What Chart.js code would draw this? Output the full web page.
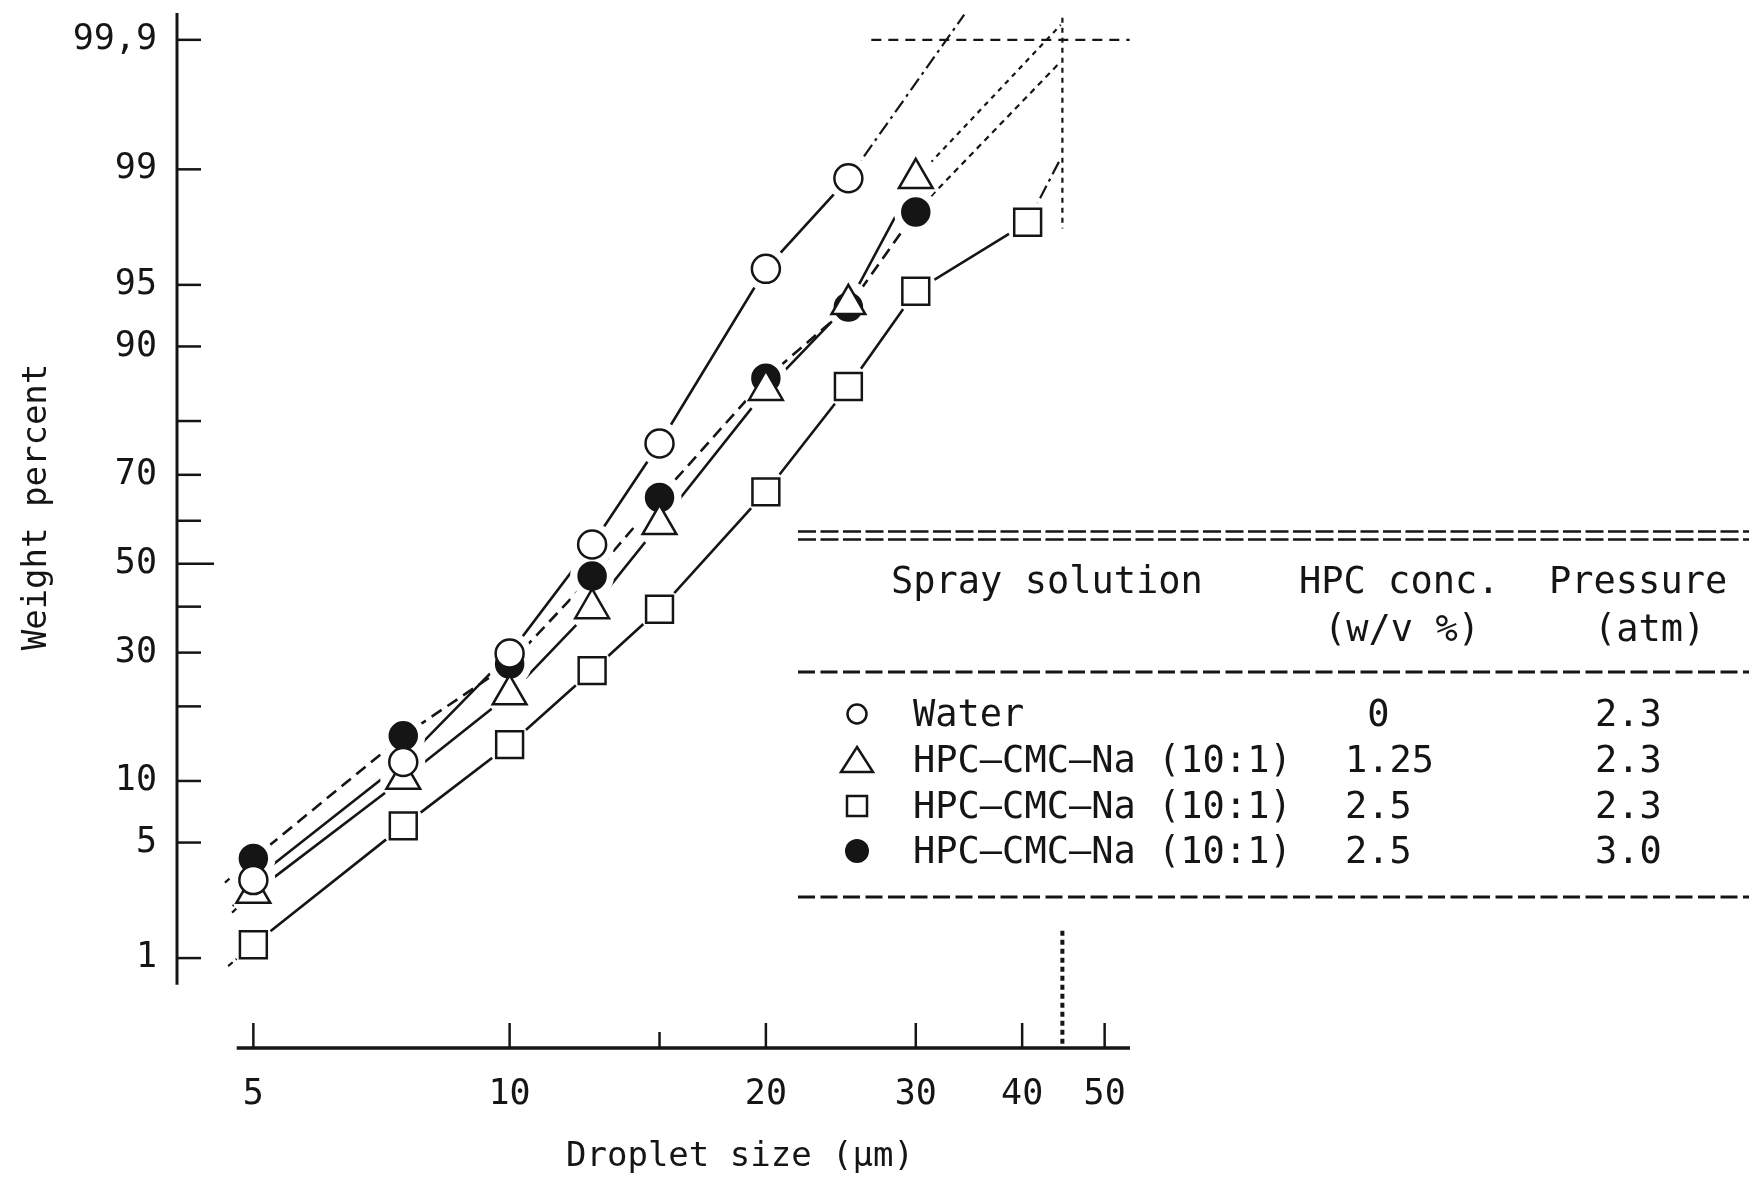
<!DOCTYPE html>
<html lang="en">
<head>
    <meta charset="UTF-8">
    <title>Droplet size distribution</title>
    <script src="https://cdn.jsdelivr.net/npm/chart.js"></script>
    <style>
        html, body { margin: 0; padding: 0; background: #fff; }
        #wrap { width: 1749px; height: 1182px; }
    </style>
</head>
<body>
    <div id="wrap">
        <canvas id="dropletChart" width="1749" height="1182"></canvas>
    </div>

    <script>
        // Droplet size (um) and cumulative weight percent per spray solution
        const sizes = [5, 7.5, 10, 12.5, 15, 20, 25, 30, 40.6];
        const water = [3.1, 12.1, 29.8, 54.5, 76.1, 95.9, 98.85, null, null];      // open circle
        const hpc125 = [2.6, 10.2, 22.0, 39.6, 59.2, 84.7, 93.7, 98.85, null];     // triangle
        const hpc250 = [1.23, 6.1, 14.3, 26.4, 39.4, 66.4, 85.2, 94.6, 97.8];      // square
        const hpc250p30 = [4.1, 15.5, 27.7, 47.1, 65.2, 86.3, 93.5, 98.1, null];   // filled circle

        // extrapolated ends of the fitted lines (same series order as above)
        const upperEndX = [34.2, 44.4, 44.4, 44.4];
        const upperEndY = [99.94, 99.926, 99.16, 99.847];
        const lowerEndX = [4.73, 4.72, 4.67, 4.63];
        const lowerEndY = [2.17, 1.98, 0.88, 3.0];

        // dotted guide lines (99.9 % level and the size where it is reached)
        const guideHX = [26.6, 53.5];
        const guideHY = [99.9, 99.9];
        const guideVX = [44.6, 44.6];
        const guideVTopY = [99.936, 97.6];
        const guideVLowY = [1.52, 0.22];

        // axes
        const xTicks = [5, 10, 15, 20, 30, 40, 50];
        const xLabels = ['5', '10', '', '20', '30', '40', '50'];
        const yTicks = [99.9, 99, 95, 90, 80, 70, 60, 50, 40, 30, 20, 10, 5, 1];
        const yLabels = ['99,9', '99', '95', '90', '', '70', '', '50', '', '30', '', '10', '5', '1'];
        const xRange = [4.067, 53.55];
        const yRange = [0.214, 99.942];
        const xAxisStart = 4.78;
        const yAxisEnd = 0.65;

        // legend table
        const solutions = ['Water', 'HPC\u2013CMC\u2013Na (10:1)', 'HPC\u2013CMC\u2013Na (10:1)', 'HPC\u2013CMC\u2013Na (10:1)'];
        const hpcConc = [' 0', '1.25', '2.5', '2.5'];
        const pressure = ['2.3', '2.3', '2.3', '3.0'];

        // inverse of the normal distribution (probability paper axis)
        function probit(pct) {
            const p = pct / 100;
            const a = [-3.969683028665376e+01, 2.209460984245205e+02, -2.759285104469687e+02, 1.383577518672690e+02, -3.066479806614716e+01, 2.506628277459239e+00];
            const b = [-5.447609879822406e+01, 1.615858368580409e+02, -1.556989798598866e+02, 6.680131188771972e+01, -1.328068155288572e+01];
            const c = [-7.784894002430293e-03, -3.223964580411365e-01, -2.400758277161838e+00, -2.549732539343734e+00, 4.374664141464968e+00, 2.938163982698783e+00];
            const d = [7.784695709041462e-03, 3.224671290700398e-01, 2.445134137142996e+00, 3.754408661907416e+00];
            const plow = 0.02425;
            let q, r;
            if (p < plow) {
                q = Math.sqrt(-2 * Math.log(p));
                return (((((c[0] * q + c[1]) * q + c[2]) * q + c[3]) * q + c[4]) * q + c[5]) / ((((d[0] * q + d[1]) * q + d[2]) * q + d[3]) * q + 1);
            }
            if (p > 1 - plow) {
                q = Math.sqrt(-2 * Math.log(1 - p));
                return -(((((c[0] * q + c[1]) * q + c[2]) * q + c[3]) * q + c[4]) * q + c[5]) / ((((d[0] * q + d[1]) * q + d[2]) * q + d[3]) * q + 1);
            }
            q = p - 0.5;
            r = q * q;
            return (((((a[0] * r + a[1]) * r + a[2]) * r + a[3]) * r + a[4]) * r + a[5]) * q / (((((b[0] * r + b[1]) * r + b[2]) * r + b[3]) * r + b[4]) * r + 1);
        }

        const pts = (xs, ys) => xs.map((x, i) => ys[i] == null ? null : { x: x, y: probit(ys[i]) }).filter(p => p);
        const INK = '#151515';
        const FONT = "'DejaVu Sans Mono', 'Liberation Mono', monospace";

        const series = [water, hpc125, hpc250, hpc250p30];
        const seriesDash = [[], [], [], [12, 7]];
        const upperDash = [[14, 5, 3, 5], [5, 5], [14, 5, 3, 5], [6, 5]];

        const datasets = [];
        // fitted lines
        series.forEach((s, i) => {
            datasets.push({ data: pts(sizes, s), showLine: true, pointRadius: 0, borderColor: INK, borderWidth: 2.6, borderDash: seriesDash[i], order: 10 });
        });
        // extrapolations up and down
        series.forEach((s, i) => {
            const valid = sizes.map((x, k) => ({ x: x, y: s[k] })).filter(p => p.y != null);
            const last = valid[valid.length - 1];
            const first = valid[0];
            datasets.push({ data: pts([last.x, upperEndX[i]], [last.y, upperEndY[i]]), showLine: true, pointRadius: 0, borderColor: INK, borderWidth: 2.2, borderDash: upperDash[i], order: 10 });
            datasets.push({ data: pts([lowerEndX[i], first.x], [lowerEndY[i], first.y]), showLine: true, pointRadius: 0, borderColor: INK, borderWidth: 2.2, borderDash: [6, 4], order: 10 });
        });
        // guides
        datasets.push({ data: pts(guideHX, guideHY), showLine: true, pointRadius: 0, borderColor: INK, borderWidth: 2.4, borderDash: [10, 7], order: 10 });
        datasets.push({ data: pts(guideVX, guideVTopY), showLine: true, pointRadius: 0, borderColor: INK, borderWidth: 2.2, borderDash: [5, 5], order: 10 });
        datasets.push({ data: pts(guideVX, guideVLowY), showLine: true, pointRadius: 0, borderColor: INK, borderWidth: 4, borderDash: [5, 4], order: 10 });

        // markers (lower order is drawn on top)
        const markerStart = datasets.length;
        datasets.push({ label: 'filled', data: pts(sizes, hpc250p30), pointStyle: 'circle', pointRadius: 13.5, backgroundColor: INK, borderColor: INK, borderWidth: 2.5, order: 3, halo: 22 });
        datasets.push({ label: 'square', data: pts(sizes, hpc250), pointStyle: 'rect', pointRadius: 19, backgroundColor: '#fff', borderColor: INK, borderWidth: 2.5, order: 2, halo: 22 });
        datasets.push({ label: 'triangle', data: pts(sizes, hpc125), pointStyle: 'triangle', pointRadius: 19.5, backgroundColor: '#fff', borderColor: INK, borderWidth: 2.5, order: 1, halo: 23 });
        datasets.push({ label: 'circle', data: pts(sizes, water), pointStyle: 'circle', pointRadius: 14, backgroundColor: '#fff', borderColor: INK, borderWidth: 2.5, order: 0, halo: 22 });

        function drawSymbol(ctx, kind, x, y) {
            ctx.beginPath();
            if (kind === 0) {
                ctx.arc(x, y, 9.5, 0, Math.PI * 2);
                ctx.stroke();
            } else if (kind === 1) {
                ctx.moveTo(x, y - 13);
                ctx.lineTo(x + 16, y + 12);
                ctx.lineTo(x - 16, y + 12);
                ctx.closePath();
                ctx.stroke();
            } else if (kind === 2) {
                ctx.rect(x - 10, y - 10, 20, 20);
                ctx.stroke();
            } else {
                ctx.arc(x, y, 12, 0, Math.PI * 2);
                ctx.fill();
            }
        }

        const framePlugin = {
            id: 'frame',
            beforeDraw(chart) {
                const ctx = chart.ctx;
                ctx.save();
                ctx.fillStyle = '#fff';
                ctx.fillRect(0, 0, chart.width, chart.height);
                ctx.restore();
            },
            // white gaps round the markers, as in the original drawing
            beforeDatasetDraw(chart, args) {
                if (args.index !== markerStart) return;
                const ctx = chart.ctx;
                const area = chart.chartArea;
                ctx.save();
                ctx.beginPath();
                ctx.rect(area.left, area.top, area.right - area.left, area.bottom - area.top);
                ctx.clip();
                ctx.fillStyle = '#fff';
                chart.data.datasets.forEach((ds, i) => {
                    if (!ds.halo) return;
                    chart.getDatasetMeta(i).data.forEach(el => {
                        ctx.beginPath();
                        ctx.arc(el.x, el.y, ds.halo, 0, Math.PI * 2);
                        ctx.fill();
                    });
                });
                ctx.restore();
            },
            afterDraw(chart) {
                const ctx = chart.ctx;
                const area = chart.chartArea;
                const xs = chart.scales.x;
                const ys = chart.scales.y;
                ctx.save();
                ctx.strokeStyle = INK;
                ctx.fillStyle = INK;
                ctx.lineCap = 'butt';

                // axis lines
                ctx.lineWidth = 3;
                ctx.beginPath();
                ctx.moveTo(area.left, area.top);
                ctx.lineTo(area.left, ys.getPixelForValue(probit(yAxisEnd)));
                ctx.stroke();
                ctx.lineWidth = 3.5;
                ctx.beginPath();
                ctx.moveTo(xs.getPixelForValue(xAxisStart), area.bottom);
                ctx.lineTo(area.right, area.bottom);
                ctx.stroke();

                // inward tick marks
                ctx.lineWidth = 2.5;
                yTicks.forEach(v => {
                    const py = ys.getPixelForValue(probit(v));
                    ctx.beginPath();
                    ctx.moveTo(area.left, py);
                    ctx.lineTo(area.left + (v === 50 ? 37 : 24), py);
                    ctx.stroke();
                });
                xTicks.forEach(v => {
                    const px = xs.getPixelForValue(v);
                    ctx.beginPath();
                    ctx.moveTo(px, area.bottom);
                    ctx.lineTo(px, area.bottom - (v === 15 ? 16 : 25));
                    ctx.stroke();
                });

                // axis titles
                ctx.font = '34px ' + FONT;
                ctx.textAlign = 'center';
                ctx.textBaseline = 'middle';
                ctx.fillText('Droplet size (\u03bcm)', 740, 1157);
                ctx.save();
                ctx.translate(37, 507);
                ctx.rotate(-Math.PI / 2);
                ctx.fillText('Weight percent', 0, 0);
                ctx.restore();

                // legend table
                ctx.lineWidth = 2.5;
                ctx.setLineDash([18, 4.5]);
                [531.5, 539.5].forEach(y => {
                    ctx.beginPath();
                    ctx.moveTo(798, y);
                    ctx.lineTo(1749, y);
                    ctx.stroke();
                });
                ctx.lineWidth = 3;
                ctx.setLineDash([17, 5.5]);
                [672, 897].forEach(y => {
                    ctx.beginPath();
                    ctx.moveTo(798, y);
                    ctx.lineTo(1749, y);
                    ctx.stroke();
                });
                ctx.setLineDash([]);

                ctx.font = '37px ' + FONT;
                ctx.textAlign = 'left';
                ctx.fillText('Spray solution', 891, 583);
                ctx.fillText('HPC conc.', 1299, 583);
                ctx.fillText('Pressure', 1549, 583);
                ctx.fillText('(w/v %)', 1324, 631);
                ctx.fillText('(atm)', 1594, 631);

                const rowY = [716, 762, 808, 853];
                ctx.lineWidth = 2.5;
                rowY.forEach((y, i) => {
                    drawSymbol(ctx, i, 857, y - 2);
                    ctx.fillText(solutions[i], 913, y);
                    ctx.fillText(hpcConc[i], 1345, y);
                    ctx.fillText(pressure[i], 1595, y);
                });
                ctx.restore();
            }
        };

        const ctx = document.getElementById('dropletChart').getContext('2d');
        const dropletChart = new Chart(ctx, {
            type: 'scatter',
            data: { datasets: datasets },
            options: {
                responsive: false,
                animation: false,
                devicePixelRatio: 1,
                // no automatic inset for marker radius, the plot area is placed by hand
                layout: { autoPadding: false, padding: { top: 13, right: 619, bottom: 0, left: 0 } },
                plugins: { legend: { display: false }, tooltip: { enabled: false } },
                scales: {
                    x: {
                        type: 'logarithmic',
                        position: 'bottom',
                        min: xRange[0],
                        max: xRange[1],
                        grid: { display: false },
                        border: { display: false },
                        afterBuildTicks: s => { s.ticks = xTicks.map(v => ({ value: v })); },
                        afterFit: s => {
                            s.height = 134;
                            s.paddingLeft = 0;
                            s.paddingRight = 0;
                        },
                        ticks: {
                            autoSkip: false,
                            maxRotation: 0,
                            padding: 18,
                            color: INK,
                            font: { family: FONT, size: 35 },
                            callback: (v, i) => xLabels[i]
                        }
                    },
                    y: {
                        type: 'linear',
                        min: probit(yRange[0]),
                        max: probit(yRange[1]),
                        grid: { display: false },
                        border: { display: false },
                        afterBuildTicks: s => { s.ticks = yTicks.map(v => ({ value: probit(v) })); },
                        afterFit: s => {
                            s.width = 177;
                            s.paddingTop = 0;
                            s.paddingBottom = 0;
                        },
                        ticks: {
                            autoSkip: false,
                            padding: 12,
                            color: INK,
                            font: { family: FONT, size: 35 },
                            callback: (v, i) => yLabels[i]
                        }
                    }
                }
            },
            plugins: [framePlugin]
        });
    </script>
</body>
</html>
